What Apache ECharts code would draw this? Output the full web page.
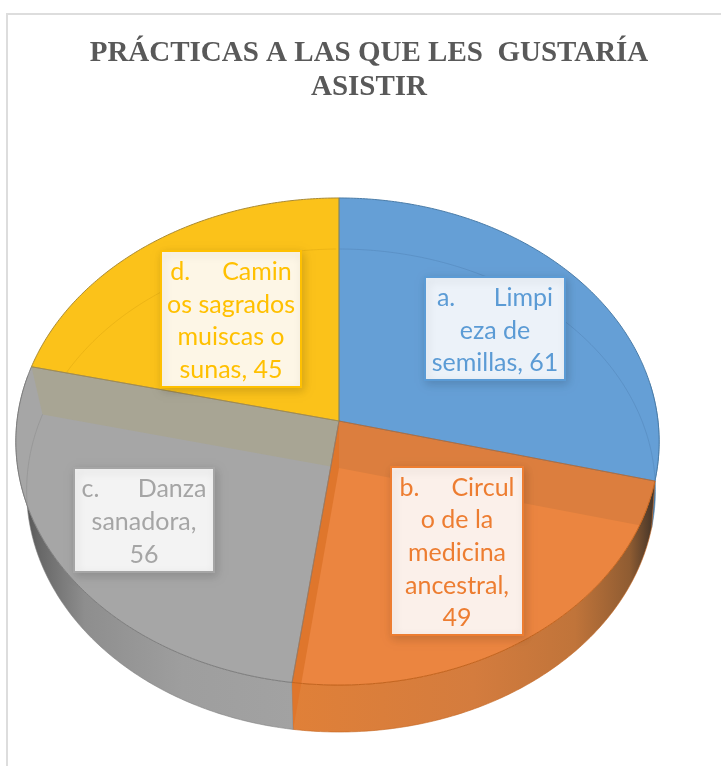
<!DOCTYPE html>
<html><head><meta charset="utf-8">
<script src="https://cdn.jsdelivr.net/npm/echarts@6/dist/echarts.min.js"></script>
<style>html,body{margin:0;padding:0;background:#fff}#c{width:721px;height:766px}</style>
</head><body><div id="c"></div>
<script>
const titleText = 'PRÁCTICAS A LAS QUE LES  GUSTARÍA\nASISTIR';
const categories = ['a. Limpieza de semillas', 'b. Circulo de la medicina ancestral', 'c. Danza sanadora', 'd. Caminos sagrados muiscas o sunas'];
const values = [61, 49, 56, 45];
const labelLines = [
  ['a.      Limpi', 'eza de', 'semillas, 61'],
  ['b.     Circul', 'o de la', 'medicina', 'ancestral,', '49'],
  ['c.      Danza', 'sanadora,', '56'],
  ['d.     Camin', 'os sagrados', 'muiscas o', 'sunas, 45']
];
const faceColors = ['#659FD6', '#EB8540', '#A6A6A6', '#FBC21A'];
const labelColors = ['#5B9BD5', '#ED7D31', '#A5A5A5', '#FFC000'];
const labelFills = ['#ECF2F9', '#FBF0EA', '#F3F3F3', '#FDF6E6'];
const rimColors = ['#4A7CA8', '#C4651F', '#7F7F7F', '#A98A35'];
const ringColors = ['#5589BD', '#C4651F', '#8F8F8F', '#E3AC12'];
// label box [left, top, right, bottom] in the page
const labelBoxes = [[425, 277, 565, 380], [391, 467, 523, 635], [74, 468, 214, 572], [161, 251, 301, 387]];

const total = values.reduce((a, b) => a + b, 0);
const starts = []; values.reduce((acc, v, i) => (starts[i] = acc, acc + v), 0);
const ang = v => v / total * Math.PI * 2;
// perspective projection of the pie disc
const TOP = { cx: 339, cy: 421, a: 241.8, bR: 319, bL: 322, k: 0.0842 };
const BASE = { cx: 339, cy: 468, a: 239.4, bR: 315, bL: 311, k: 0.0932 };
const proj = (P, t) => {
  const u = Math.sin(t), v = Math.cos(t), d = 1 + P.k * v;
  return [P.cx + (u < 0 ? P.bL : P.bR) * u / d, P.cy - P.a * v / d];
};
const arc = (P, t0, t1) => {
  const n = Math.max(2, Math.ceil(Math.abs(t1 - t0) / 0.01)), out = [];
  for (let i = 0; i <= n; i++) out.push(proj(P, t0 + (t1 - t0) * i / n));
  return out;
};
const inside = (p, poly) => {
  let c = false;
  for (let i = 0, j = poly.length - 1; i < poly.length; j = i++) {
    const [xi, yi] = poly[i], [xj, yj] = poly[j];
    if ((yi > p[1]) !== (yj > p[1]) && p[0] < (xj - xi) * (p[1] - yi) / (yj - yi) + xi) c = !c;
  }
  return c;
};
const clipConvex = (subject, clip) => {
  let area = 0;
  clip.forEach((p, i) => { const q = clip[(i + 1) % clip.length]; area += p[0] * q[1] - q[0] * p[1]; });
  const side = (a, b, p) => ((b[0] - a[0]) * (p[1] - a[1]) - (b[1] - a[1]) * (p[0] - a[0])) * Math.sign(area);
  let out = subject;
  clip.forEach((a, i) => {
    const b = clip[(i + 1) % clip.length], input = out; out = [];
    input.forEach((p, j) => {
      const q = input[(j + 1) % input.length], sp = side(a, b, p), sq = side(a, b, q);
      if (sp >= 0) out.push(p);
      if ((sp >= 0) !== (sq >= 0)) { const f = sp / (sp - sq); out.push([p[0] + (q[0] - p[0]) * f, p[1] + (q[1] - p[1]) * f]); }
    });
  });
  return out;
};
const wallQuad = t => [[TOP.cx, TOP.cy], proj(TOP, t), proj(BASE, t), [BASE.cx, BASE.cy]];
const grad = stops => new echarts.graphic.LinearGradient(0, 0, 1, 0, stops.map(([o, c]) => ({ offset: o, color: c })));
const sideFills = [
  '#4A7CA8',
  grad([[0, '#E08038'], [0.5, '#D47C3E'], [0.78, '#C0743A'], [0.93, '#8F5C32'], [1, '#3F3228']]),
  grad([[0, '#454545'], [0.08, '#666'], [0.25, '#8E8E8E'], [0.6, '#9E9E9E'], [1, '#A2A2A2']]),
  '#A98A35'
];

function renderItem(params, api) {
  const i = api.value(0), t0 = ang(starts[i]), t1 = t0 + ang(api.value(1));
  const slice = [[TOP.cx, TOP.cy]].concat(arc(TOP, t0, t1));
  const kids = [];
  // side wall, lower half only
  const s0 = Math.max(t0, Math.PI * 0.45), s1 = Math.min(t1, Math.PI * 1.56);
  if (s1 > s0) {
    kids.push({ type: 'polygon', z2: 1, shape: { points: arc(TOP, s0, s1).concat(arc(BASE, s1, s0)) },
      style: { fill: sideFills[i], stroke: rimColors[i], lineWidth: 0.6 } });
  }
  kids.push({ type: 'polygon', z2: 2, shape: { points: slice }, style: { fill: faceColors[i] } });
  // far-side ring seen through the face
  const ring = arc(BASE, t0, t1).filter(p => inside(p, slice));
  if (ring.length > 1) kids.push({ type: 'polyline', z2: 4, shape: { points: ring },
    style: { stroke: ringColors[i], lineWidth: 1, fill: null, opacity: 0.6 } });
  // cut walls seen through the lower slices
  if (i === 1) {
    kids.push({ type: 'polygon', z2: 3, shape: { points: clipConvex(wallQuad(t0), slice) }, style: { fill: '#DC7E3E' } });
    kids.push({ type: 'polygon', z2: 3, shape: { points: wallQuad(t1) }, style: { fill: '#DF762C' } });
  }
  if (i === 2) {
    kids.push({ type: 'polygon', z2: 3, shape: { points: clipConvex(wallQuad(t1), slice) }, style: { fill: '#A8A594' } });
  }
  // outline of the top face
  kids.push({ type: 'polyline', z2: 5, shape: { points: arc(TOP, t0, t1) },
    style: { stroke: rimColors[i], lineWidth: 1, fill: null } });
  kids.push({ type: 'polyline', z2: 5, shape: { points: [proj(TOP, t0), [TOP.cx, TOP.cy], proj(TOP, t1)] },
    style: { stroke: rimColors[i], lineWidth: 1, fill: null, opacity: 0.7 } });
  // data label
  const [l, t, r, b] = labelBoxes[i];
  kids.push({ type: 'rect', z2: 10, shape: { x: l, y: t, width: r - l, height: b - t },
    style: { fill: labelFills[i], stroke: labelColors[i], lineWidth: 2, shadowBlur: 9, shadowColor: 'rgba(0,0,0,0.14)', shadowOffsetX: 2, shadowOffsetY: 3 } });
  kids.push({ type: 'text', z2: 11, style: {
    text: labelLines[i].join('\n'), x: (l + r) / 2, y: (t + b) / 2 + 2, align: 'center', verticalAlign: 'middle',
    fill: labelColors[i], font: '25px Lato', lineHeight: 32.7 } });
  return { type: 'group', children: kids };
}

const chart = echarts.init(document.getElementById('c'), null, { renderer: 'canvas' });
chart.setOption({
  animation: false,
  backgroundColor: '#fff',
  title: {
    text: titleText, left: 364, top: 32, textAlign: 'center',
    textStyle: { fontFamily: 'Liberation Serif', fontWeight: 'bold', fontSize: 29, color: '#595959', lineHeight: 34 }
  },
  graphic: [{ type: 'rect', silent: true, shape: { x: 7, y: 14, width: 900, height: 900 },
    style: { fill: null, stroke: '#DDDDDD', lineWidth: 2 } }],
  series: [{
    type: 'custom', coordinateSystem: 'none', silent: true, clip: false,
    renderItem, encode: { itemName: 2 },
    data: values.map((v, i) => [i, v, categories[i]]),
    z: 2
  }]
});
</script></body></html>
